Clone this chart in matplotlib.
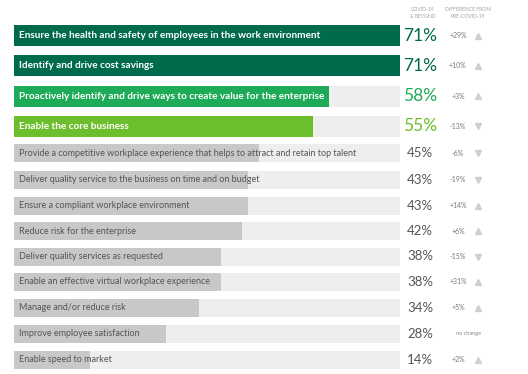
import matplotlib.pyplot as plt
from matplotlib import transforms

plt.rcParams['font.family'] = ['Lato', 'DejaVu Sans']

labels = [
    "Ensure the health and safety of employees in the work environment",
    "Identify and drive cost savings",
    "Proactively identify and drive ways to create value for the enterprise",
    "Enable the core business",
    "Provide a competitive workplace experience that helps to attract and retain top talent",
    "Deliver quality service to the business on time and on budget",
    "Ensure a compliant workplace environment",
    "Reduce risk for the enterprise",
    "Deliver quality services as requested",
    "Enable an effective virtual workplace experience",
    "Manage and/or reduce risk",
    "Improve employee satisfaction",
    "Enable speed to market",
]
values = [71, 71, 58, 55, 45, 43, 43, 42, 38, 38, 34, 28, 14]
diffs = ["+29%", "+10%", "+3%", "-13%", "-6%", "-19%", "+14%", "+6%", "-15%", "+31%", "+5%", "no change", "+2%"]
directions = [1, 1, 1, -1, -1, -1, 1, 1, -1, 1, 1, 0, 1]

# layout (pixel rows)
row_y = [35.5, 65.5, 96, 126, 153, 179.5, 205.5, 231, 256.5, 282, 308, 333.5, 359.5]
row_h = [21, 21, 21, 21] + [18] * 9
colors = ["#006B4C", "#006B4C", "#1DAB57", "#6DBE2D"] + ["#C8C8C8"] * 9
track = "#EEEEEE"

fig = plt.figure(figsize=(5.28, 3.74), dpi=100)
ax = fig.add_axes([14 / 528, 0, 386 / 528, 1])
ax.set_xlim(0, max(values))
ax.set_ylim(374, 0)
ax.axis("off")

ax.barh(row_y, [max(values)] * len(values), height=row_h, color=track, left=0)
ax.barh(row_y, values, height=row_h, color=colors, left=0)

pad = transforms.offset_copy(ax.transData, fig=fig, x=5, y=0, units="dots")
figpx = transforms.blended_transform_factory(fig.dpi_scale_trans, ax.transData)

for i, (lab, v, d, s) in enumerate(zip(labels, values, diffs, directions)):
    y = row_y[i]
    top = i < 4
    ax.text(0, y, lab, transform=pad, va="center", ha="left",
            color="white" if top else "#555555",
            fontsize=7.2 if top else 6.5, fontweight="bold" if top else "normal")
    ax.text(420 / 100, y, f"{v}%", transform=figpx, ha="center", va="center",
            color=colors[i] if top else "#555555",
            fontsize=12.5 if top else 9.5, fontweight="normal")
    if s == 0:
        ax.text(468 / 100, y, d, transform=figpx, ha="center", va="center",
                color="#888888", fontsize=4)
    else:
        ax.text(458 / 100, y, d, transform=figpx, ha="center", va="center",
                color="#777777", fontsize=5)
        ax.plot([478 / 100], [y], transform=figpx, marker="^" if s > 0 else "v",
                color="#D0D0D0", markersize=5, clip_on=False)

fig.text(423 / 528, 1 - 13 / 374, "COVID-19\n& BEYOND", ha="center", va="center",
         fontsize=3.6, color="#A0A0A0", linespacing=1.3)
fig.text(468 / 528, 1 - 13 / 374, "DIFFERENCE FROM\nPRE-COVID-19", ha="center", va="center",
         fontsize=3.6, color="#A0A0A0", linespacing=1.3)

fig.savefig("out.png", dpi=100, facecolor="white")
